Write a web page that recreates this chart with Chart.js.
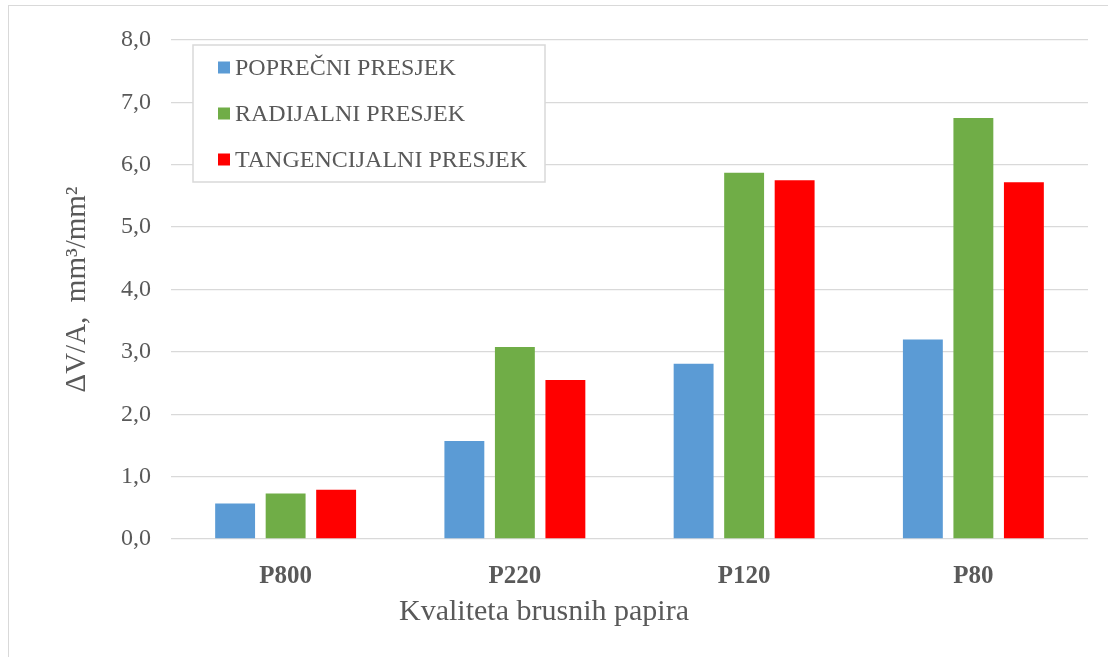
<!DOCTYPE html>
<html>
<head>
<meta charset="utf-8">
<script src="https://cdn.jsdelivr.net/npm/chart.js@4.4.1/dist/chart.umd.min.js"></script>
<style>
  html, body { margin: 0; padding: 0; background: #fff; overflow: hidden; }
  #wrap { position: relative; width: 1108px; height: 657px; overflow: hidden; }
  #frame { position: absolute; left: 8px; top: 5px; width: 1200px; height: 800px; border: 1px solid #d9d9d9; }
  canvas { position: absolute; left: 0; top: 0; }
</style>
</head>
<body>
<div id="wrap">
  <div id="frame"></div>
  <canvas id="myChart" width="1108" height="657"></canvas>
</div>
<script>
var categories = ["P800", "P220", "P120", "P80"];
var poprecni = [0.57, 1.57, 2.81, 3.20];
var radijalni = [0.73, 3.08, 5.87, 6.75];
var tangencijalni = [0.79, 2.55, 5.75, 5.72];
var seriesNames = ["POPREČNI PRESJEK", "RADIJALNI PRESJEK", "TANGENCIJALNI PRESJEK"];
var seriesColors = ["#5B9BD5", "#70AD47", "#FF0000"];
var yTicks = [0, 1, 2, 3, 4, 5, 6, 7, 8];

var serif = '"Liberation Serif", "Times New Roman", serif';
var grey = "#595959";

// legend drawn as a framed box inside the plot area
var boxLegend = {
    id: "boxLegend",
    afterDatasetsDraw: function(chart){
        var ctx = chart.ctx;
        ctx.save();
        ctx.fillStyle = "#fff";
        ctx.fillRect(193, 45, 352, 137);
        ctx.strokeStyle = "#d9d9d9";
        ctx.lineWidth = 1.5;
        ctx.strokeRect(193, 45, 352, 137);
        ctx.font = "24px " + serif;
        ctx.textBaseline = "middle";
        chart.data.datasets.forEach(function(ds, i){
            var y = 67.5 + i * 46;
            ctx.fillStyle = ds.backgroundColor;
            ctx.fillRect(218, y - 6, 12, 12);
            ctx.fillStyle = grey;
            ctx.fillText(ds.label, 235, y + 1);
        });
        ctx.restore();
    }
};

var values = [poprecni, radijalni, tangencijalni];
var datasets = values.map(function(v, i){
    return {
        label: seriesNames[i],
        data: v,
        backgroundColor: seriesColors[i],
        borderWidth: 0
    };
});

var canvas = document.getElementById("myChart");
var myChart = new Chart(canvas, {
    type: "bar",
    data: {
        labels: categories,
        datasets: datasets
    },
    options: {
        responsive: false,
        animation: false,
        layout: { padding: { left: 0, right: 20, top: 40, bottom: 0 } },
        datasets: { bar: { categoryPercentage: 0.661, barPercentage: 0.79 } },
        plugins: {
            legend: { display: false },
            tooltip: { enabled: false },
            title: {
                display: true,
                position: "bottom",
                text: "Kvaliteta brusnih papira",
                color: grey,
                font: { family: serif, size: 30, weight: "normal" },
                padding: { top: 0, bottom: 27 }
            }
        },
        scales: {
            x: {
                grid: { display: false },
                border: { display: false },
                ticks: {
                    color: grey,
                    font: { family: serif, size: 25, weight: "bold" },
                    padding: 15
                },
                afterFit: function(scale){ scale.height = 55; }
            },
            y: {
                min: yTicks[0],
                max: yTicks[yTicks.length - 1],
                grid: { color: "#d9d9d9", lineWidth: 1.3, drawTicks: false },
                border: { display: false },
                ticks: {
                    stepSize: 1,
                    color: grey,
                    font: { family: serif, size: 24 },
                    padding: 20,
                    callback: function(v){ return v.toFixed(1).replace(".", ","); }
                },
                title: {
                    display: true,
                    text: "ΔV/A,  mm³/mm²",
                    color: grey,
                    font: { family: serif, size: 29 },
                    padding: { top: 60 }
                },
                afterFit: function(scale){ scale.width = 171; }
            }
        }
    },
    plugins: [boxLegend]
});
</script>
</body>
</html>
